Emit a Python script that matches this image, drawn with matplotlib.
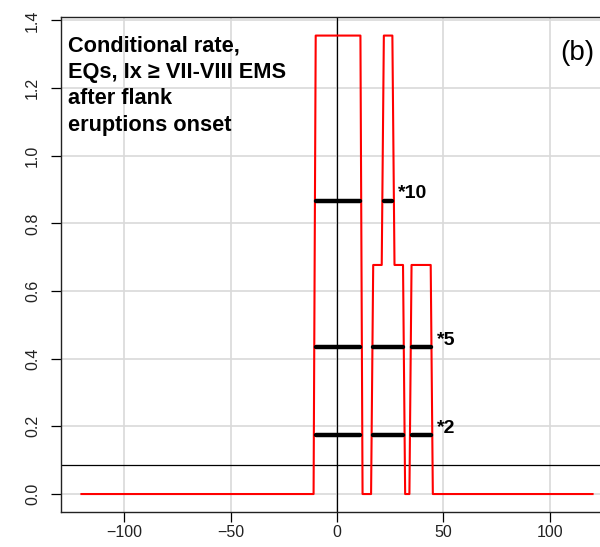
import matplotlib
matplotlib.use('Agg')
import matplotlib.pyplot as plt

plt.rcParams['font.family'] = ['Liberation Sans', 'DejaVu Sans']

# conditional rate curve (days from flank eruption onset -> rate)
lag_days = [-120, -11, -10, 11, 12, 16, 17, 21, 22, 26, 27, 31, 32, 34, 35, 44, 45, 120]
rate = [0, 0, 1.355, 1.355, 0, 0, 0.677, 0.677, 1.355, 1.355,
        0.677, 0.677, 0, 0, 0.677, 0.677, 0, 0]

# background rate and exceedance levels
base_rate = 0.0867
factors = [2, 5, 10]
factor_labels = ['*2', '*5', '*10']
exceed_2 = [(-10, 11), (17, 31), (35, 44)]
exceed_5 = [(-10, 11), (17, 31), (35, 44)]
exceed_10 = [(-10, 11), (22, 26)]
exceed = [exceed_2, exceed_5, exceed_10]

x_ticks = [-100, -50, 0, 50, 100]
y_ticks = [0.0, 0.2, 0.4, 0.6, 0.8, 1.0, 1.2, 1.4]

W, H = 600, 547
fig = plt.figure(figsize=(W / 100, H / 100), dpi=100, facecolor='white')
left, right, bottom, top = 61, 613, 512.3, 17.3
ax = fig.add_axes([left / W, (H - bottom) / H, (right - left) / W, (bottom - top) / H])

ax.set_xlim(-129.6, 129.6)
ax.set_ylim(-0.054, 1.409)

for xt in x_ticks:
    ax.axvline(xt, color='#d9d9d9', lw=1.2, zorder=0)
for yt in y_ticks:
    ax.axhline(yt, color='#d9d9d9', lw=1.2, zorder=0)

ax.axvline(0, color='black', lw=0.9, zorder=1)
ax.axhline(base_rate, color='black', lw=0.9, zorder=1)

ax.plot(lag_days, rate, color='red', lw=1.5, zorder=2)

for fac, lab, segs in zip(factors, factor_labels, exceed):
    level = base_rate * fac
    for x0, x1 in segs:
        ax.plot([x0, x1], [level, level], color='black', lw=3.2,
                solid_capstyle='round', zorder=3)
    ax.annotate(lab, (segs[-1][1], level), xytext=(6, 7), textcoords='offset pixels',
                ha='left', va='center', fontsize=14, fontweight='bold')

ax.text(0.0127, 0.963, 'Conditional rate,\nEQs, Ix \u2265 VII-VIII EMS\nafter flank\neruptions onset',
        transform=ax.transAxes, ha='left', va='top', fontsize=15.7, fontweight='bold',
        linespacing=1.34)
ax.text(0.967, 0.928, '(b)', transform=ax.transAxes, ha='right', va='center', fontsize=20)

ax.set_xticks(x_ticks)
ax.set_xticklabels(['\u2212100', '\u221250', '0', '50', '100'])
ax.set_yticks(y_ticks)
ax.set_yticklabels(['%.1f' % v for v in y_ticks], rotation=90, va='center')
ax.tick_params(direction='out', length=7.2, width=0.9, labelsize=11.5,
               labelcolor='#222222')
ax.tick_params(axis='x', pad=2)
ax.tick_params(axis='y', pad=8)
for sp in ax.spines.values():
    sp.set_linewidth(1.0)
    sp.set_color('#222222')

fig.savefig('out.png', dpi=100)
